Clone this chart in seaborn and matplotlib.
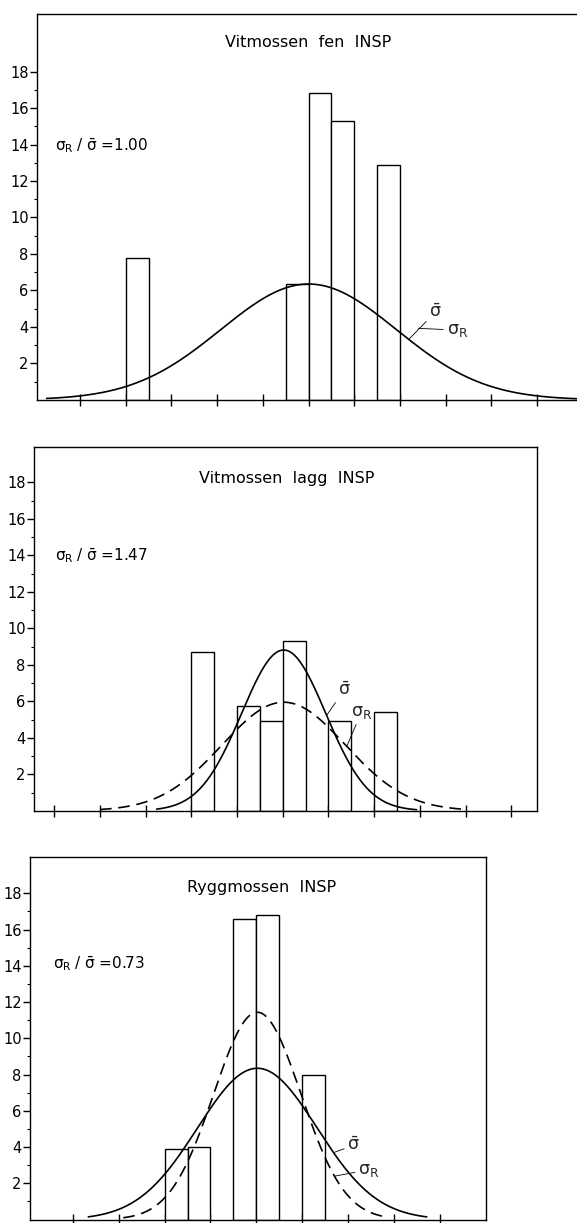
import numpy as np
import pandas as pd
import matplotlib
matplotlib.use("Agg")
import matplotlib.pyplot as plt
import seaborn as sns

sns.set_theme(style="ticks")
plt.rcParams['font.family'] = ['DejaVu Sans']
plt.rcParams['mathtext.fontset'] = 'dejavusans'
plt.rcParams['mathtext.default'] = 'regular'

# ---------------- data ----------------
titles = ["Vitmossen  fen  INSP", "Vitmossen  lagg  INSP", "Ryggmossen  INSP"]
ratio_values = ["1.00", "1.47", "0.73"]
y_tick_values = [2, 4, 6, 8, 10, 12, 14, 16, 18]
y_tick_labels = ["2", "4", "6", "8", "10", "12", "14", "16", "18"]

# histogram bars: left edge of each 0.5-wide class and its height
bin_width = 0.5
fen_bins = [2.0, 5.5, 6.0, 6.5, 7.5]
fen_heights = [7.8, 6.35, 16.8, 15.28, 12.88]
lagg_bins = [4.0, 5.0, 5.5, 6.0, 7.0, 8.0]
lagg_heights = [8.72, 5.74, 4.94, 9.32, 4.94, 5.4]
rygg_bins = [3.0, 3.5, 4.5, 5.0, 6.0]
rygg_heights = [3.88, 4.02, 16.57, 16.82, 7.96]

# fitted normal curves (mean, standard deviation, peak height, drawn x-range)
fen_sbar = dict(mean=6.0, sd=1.92, peak=6.35, start=0.27, end=11.87)
lagg_sbar = dict(mean=6.02, sd=0.92, peak=8.81, start=3.24, end=8.93)
lagg_sr = dict(mean=6.02, sd=1.35, peak=5.95, start=2.0, end=10.02)
rygg_sbar = dict(mean=5.02, sd=1.30, peak=8.35, start=1.34, end=8.71)
rygg_sr = dict(mean=5.02, sd=0.95, peak=11.44, start=2.1, end=7.75)


def normal(p, x):
    return p['peak'] * np.exp(-0.5 * ((np.asarray(x) - p['mean']) / p['sd']) ** 2)


def curve_frame(p, n=400):
    x = np.linspace(p['start'], p['end'], n)
    return pd.DataFrame({'x': x, 'y': normal(p, x)})


# ---------------- figure ----------------
W, H = 577, 1223
fig = plt.figure(figsize=(W / 100, H / 100), dpi=100)


def add_axes(l, r, t, b):
    return fig.add_axes([l / W, 1 - b / H, (r - l) / W, (b - t) / H])


ax1 = add_axes(37, 577, 14, 399.8)
ax2 = add_axes(34, 537.3, 446.7, 810.8)
ax3 = add_axes(30, 486, 857.3, 1219.6)

panels = [
    (ax1, fen_bins, fen_heights, (0.06, 11.87), 21.16, range(1, 12)),
    (ax2, lagg_bins, lagg_heights, (0.556, 11.57), 19.95, range(1, 12)),
    (ax3, rygg_bins, rygg_heights, (0.07, 10.0), 19.99, range(1, 10)),
]

for i, (ax, bins, heights, xlim, ytop, xt) in enumerate(panels):
    df = pd.DataFrame({'x': np.array(bins) + bin_width / 2, 'h': heights})
    sns.barplot(data=df, x='x', y='h', native_scale=True, width=1.0,
                color='white', saturation=1, edgecolor='black',
                linewidth=1.0, errorbar=None, ax=ax, zorder=2)
    ax.set_xlim(*xlim)
    ax.set_ylim(0, ytop)
    ax.set_xticks(list(xt))
    ax.set_xticklabels([])
    ax.set_yticks(y_tick_values)
    ax.set_yticklabels(y_tick_labels)
    ax.set_yticks(list(range(1, 18, 2)), minor=True)
    ax.tick_params(axis='x', direction='inout', length=9, width=1.0, color='black')
    ax.tick_params(axis='y', which='major', direction='out', length=5, width=1.0,
                   pad=1, labelsize=10.5, color='black', labelcolor='black')
    ax.tick_params(axis='y', which='minor', direction='out', length=2.5, width=0.8,
                   color='black')
    for s in ['left', 'top', 'bottom', 'right']:
        ax.spines[s].set_color('black')
        ax.spines[s].set_linewidth(1.0)
    if i == 0:
        ax.spines['right'].set_visible(False)

# ----- curves -----
sns.lineplot(data=curve_frame(fen_sbar), x='x', y='y', ax=ax1, color='black',
             linewidth=1.2, zorder=3)
sns.lineplot(data=curve_frame(lagg_sbar), x='x', y='y', ax=ax2, color='black',
             linewidth=1.2, zorder=3)
sns.lineplot(data=curve_frame(lagg_sr), x='x', y='y', ax=ax2, color='black',
             linewidth=1.2, zorder=3, linestyle=(0, (7, 4)))
sns.lineplot(data=curve_frame(rygg_sbar), x='x', y='y', ax=ax3, color='black',
             linewidth=1.2, zorder=3)
sns.lineplot(data=curve_frame(rygg_sr), x='x', y='y', ax=ax3, color='black',
             linewidth=1.2, zorder=3, linestyle=(0, (7, 4)))
for ax in (ax1, ax2, ax3):
    ax.set_xlabel('')
    ax.set_ylabel('')

# ----- titles and ratio texts -----
title_pos = [(5.99, 19.59), (6.08, 18.22), (5.12, 18.31)]
ratio_pos = [(0.45, 13.94), (1.02, 13.98), (0.58, 14.1)]
for ax, t, tp, r, rp in zip((ax1, ax2, ax3), titles, title_pos, ratio_values, ratio_pos):
    ax.text(tp[0], tp[1], t, ha='center', va='center', fontsize=11.5, color='black')
    ax.text(rp[0], rp[1], r'$\sigma_R\;/\;\bar{\sigma}$ =' + r, ha='left',
            va='center', fontsize=11, color='black')

lead = dict(arrowstyle='-', color='black', lw=0.6, shrinkA=0, shrinkB=0)
lab_fs = 12.5

# panel 1 labels
ax1.annotate(r'$\bar{\sigma}$', xy=(8.19, float(normal(fen_sbar, 8.19))),
             xytext=(8.78, 4.83), ha='center', va='center', fontsize=lab_fs,
             arrowprops=lead)
ax1.annotate(r'$\sigma_R$', xy=(8.4, 3.92), xytext=(9.25, 3.82), ha='center',
             va='center', fontsize=lab_fs, arrowprops=lead)

# panel 2 labels
ax2.annotate(r'$\bar{\sigma}$', xy=(6.96, float(normal(lagg_sbar, 6.96))),
             xytext=(7.34, 6.6), ha='center', va='center', fontsize=lab_fs,
             arrowprops=lead)
ax2.annotate(r'$\sigma_R$', xy=(7.40, float(normal(lagg_sr, 7.40))),
             xytext=(7.72, 5.4), ha='center', va='center', fontsize=lab_fs,
             arrowprops=lead)

# panel 3 labels
ax3.annotate(r'$\bar{\sigma}$', xy=(6.68, float(normal(rygg_sbar, 6.68))),
             xytext=(7.12, 4.1), ha='center', va='center', fontsize=lab_fs,
             arrowprops=lead)
ax3.annotate(r'$\sigma_R$', xy=(6.70, float(normal(rygg_sr, 6.70))),
             xytext=(7.45, 2.75), ha='center', va='center', fontsize=lab_fs,
             arrowprops=lead)

fig.savefig('out.png', dpi=100, facecolor='white')
